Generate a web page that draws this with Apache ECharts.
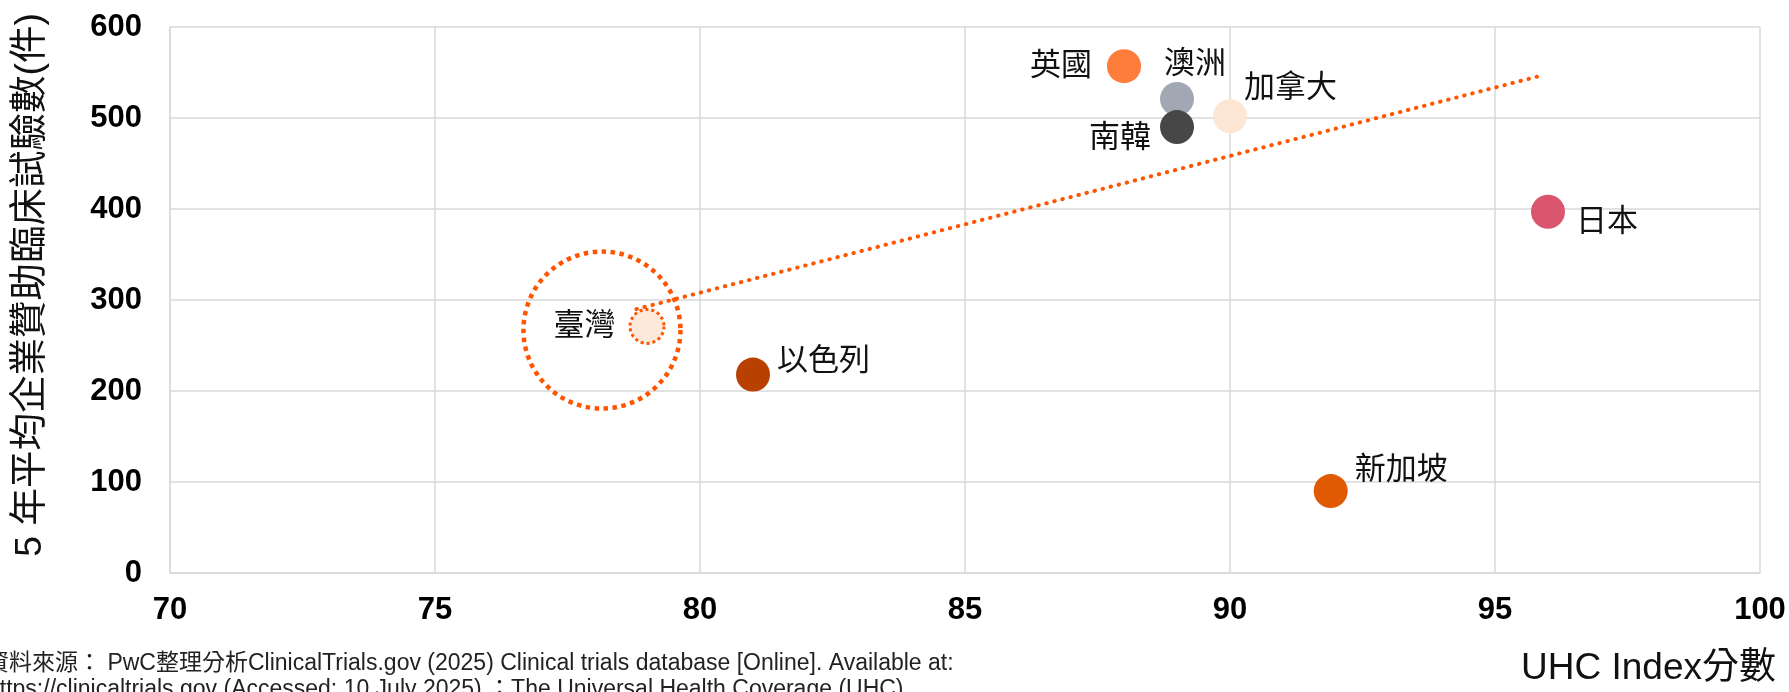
<!DOCTYPE html>
<html>
<head>
<meta charset="utf-8">
<script src="https://cdn.jsdelivr.net/npm/echarts@6/dist/echarts.min.js"></script>
<style>
  html, body { margin: 0; padding: 0; background: #fff; }
  #chart { width: 1789px; height: 692px; }
</style>
</head>
<body>
<div id="chart"></div>
<script>
// Countries, UHC index score and 5-year average industry-sponsored trials
const countries = ['臺灣', '以色列', '英國', '澳洲', '南韓', '加拿大', '日本', '新加坡'];
const uhcIndex = [79, 81, 88, 89, 89, 90, 96, 91.9];
const trialCounts = [271, 218, 557, 521, 490, 502, 397, 90];

// Trend line end points
const trendX = [78.8, 95.9];
const trendY = [290, 547];

// Highlight ring around Taiwan
const highlightX = [78.15];
const highlightY = [267];

// Axis ticks
const xTicks = [70, 75, 80, 85, 90, 95, 100];
const yTicks = [0, 100, 200, 300, 400, 500, 600];

const FONT = '"Liberation Sans", Arial, "Noto Sans CJK TC", sans-serif';
const ORANGE = '#FF5500';
const GRID = '#d9d9d9';

// Per-country marker look and label placement
const pointStyle = {
  '臺灣':  { color: '#FDE9D9', borderColor: ORANGE, borderWidth: 3, borderType: [3, 3],
             label: { position: 'left', distance: 13, offset: [0, 0] } },
  '以色列': { color: '#B84000', label: { position: 'right', distance: 7, offset: [0, -13] } },
  '英國':  { color: '#FF7D3B', label: { position: 'left', distance: 15, offset: [0, 0] } },
  '澳洲':  { color: '#A2A8B3', label: { position: 'top', distance: 2, offset: [18, 0] } },
  '南韓':  { color: '#474747', label: { position: 'left', distance: 9, offset: [0, 11] } },
  '加拿大': { color: '#FDE7D4', label: { position: 'right', distance: 0, offset: [-3, -28] } },
  '日本':  { color: '#DA566F', label: { position: 'right', distance: 11, offset: [0, 11] } },
  '新加坡': { color: '#E05A03', label: { position: 'right', distance: 7, offset: [0, -21] } }
};

const pointData = countries.map((name, i) => {
  const s = pointStyle[name];
  const itemStyle = { color: s.color, opacity: 1 };
  if (s.borderColor) {
    itemStyle.borderColor = s.borderColor;
    itemStyle.borderWidth = s.borderWidth;
    itemStyle.borderType = s.borderType;
  }
  return {
    name: name,
    value: [uhcIndex[i], trialCounts[i]],
    itemStyle: itemStyle,
    label: Object.assign({ show: true, formatter: '{b}' }, s.label)
  };
});

const chart = echarts.init(document.getElementById('chart'), null, { renderer: 'canvas' });

const axisLabelStyle = {
  fontFamily: FONT,
  fontSize: 31,
  fontWeight: 'bold',
  color: '#000'
};

chart.setOption({
  animation: false,
  backgroundColor: '#fff',
  grid: { left: 170, right: 29, top: 27, bottom: 119, containLabel: false },
  xAxis: {
    type: 'value',
    min: xTicks[0],
    max: xTicks[xTicks.length - 1],
    interval: xTicks[1] - xTicks[0],
    axisLine: { show: true, lineStyle: { color: GRID, width: 1.5 } },
    axisTick: { show: false },
    splitLine: { show: true, lineStyle: { color: GRID, width: 1.5 } },
    axisLabel: Object.assign({ margin: 22 }, axisLabelStyle)
  },
  yAxis: {
    type: 'value',
    min: yTicks[0],
    max: yTicks[yTicks.length - 1],
    interval: yTicks[1] - yTicks[0],
    axisLine: { show: true, lineStyle: { color: GRID, width: 1.5 } },
    axisTick: { show: false },
    splitLine: { show: true, lineStyle: { color: GRID, width: 1.5 } },
    axisLabel: Object.assign({ margin: 28 }, axisLabelStyle)
  },
  series: [
    {
      // dotted ring drawn around Taiwan
      type: 'scatter',
      silent: true,
      z: 1,
      symbol: 'circle',
      symbolSize: 157,
      data: highlightX.map((x, i) => [x, highlightY[i]]),
      itemStyle: {
        color: 'rgba(0,0,0,0)',
        opacity: 1,
        borderColor: ORANGE,
        borderWidth: 4.5,
        borderType: [4.5, 4.5]
      }
    },
    {
      // trend line
      type: 'line',
      silent: true,
      z: 2,
      symbol: 'none',
      data: trendX.map((x, i) => [x, trendY[i]]),
      lineStyle: { color: ORANGE, width: 4, type: [0.5, 7.8], cap: 'round', opacity: 1 }
    },
    {
      type: 'scatter',
      z: 3,
      symbol: 'circle',
      symbolSize: 34,
      data: pointData,
      label: {
        fontFamily: FONT,
        fontSize: 31,
        color: '#111'
      }
    }
  ],
  graphic: [
    {
      type: 'text',
      x: 31,
      y: 285,
      rotation: Math.PI / 2,
      style: {
        text: '5 年平均企業贊助臨床試驗數(件)',
        font: '37.5px ' + FONT,
        fill: '#111',
        align: 'center',
        verticalAlign: 'middle'
      }
    },
    {
      type: 'text',
      right: 13,
      top: 650,
      style: {
        text: 'UHC Index分數',
        font: '37px ' + FONT,
        fill: '#111'
      }
    },
    {
      type: 'text',
      x: -14,
      y: 652,
      style: {
        text: '資料來源： PwC整理分析ClinicalTrials.gov (2025) Clinical trials database [Online]. Available at:',
        font: '23px ' + FONT,
        fill: '#222'
      }
    },
    {
      type: 'text',
      x: -13,
      y: 678,
      style: {
        text: 'https://clinicaltrials.gov (Accessed: 10 July 2025) ；The Universal Health Coverage (UHC)',
        font: '23px ' + FONT,
        fill: '#222'
      }
    }
  ]
});
</script>
</body>
</html>
